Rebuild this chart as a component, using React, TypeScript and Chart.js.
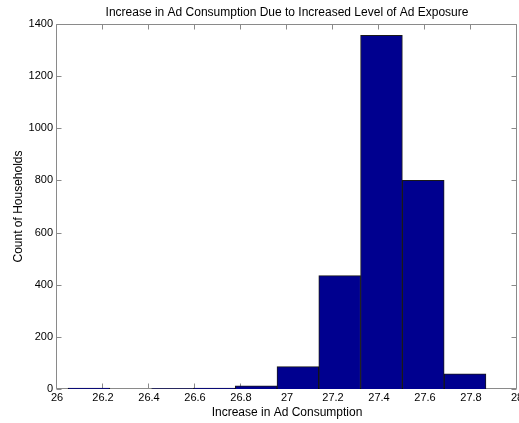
import React, { useEffect, useRef } from "react";
import { Chart, registerables } from "chart.js";

Chart.register(...registerables);

const chartTitle = "Increase in Ad Consumption Due to Increased Level of Ad Exposure";
const xTitle = "Increase in Ad Consumption";
const yTitle = "Count of Households";

// histogram bin edges
const binEdges = [26.048, 26.2297, 26.4114, 26.5931, 26.7748, 26.9565, 27.1382, 27.3199, 27.5016, 27.6833, 27.865];
const counts = [4, 0, 2, 4, 12, 86, 435, 1357, 800, 58];

const xTicks = [26, 26.2, 26.4, 26.6, 26.8, 27, 27.2, 27.4, 27.6, 27.8, 28];
const yTicks = [0, 200, 400, 600, 800, 1000, 1200, 1400];

const FONT = "'Liberation Sans', Arial, Helvetica, sans-serif";

const matlabAxes = {
  id: "matlabAxes",
  beforeDatasetsDraw(chart: any) {
    const { ctx, chartArea, scales } = chart;
    const { left, right, top, bottom } = chartArea;
    const x = scales.x;
    const y = scales.y;
    const L = left - 0.5;
    const R = right - 0.5;
    const T = top + 0.5;
    const B = bottom - 0.5;
    const len = 5;
    ctx.save();
    ctx.strokeStyle = "#8a8a8a";
    ctx.lineWidth = 1;
    ctx.beginPath();
    ctx.rect(L, T, R - L, B - T);
    x.ticks.forEach((t: any) => {
      const px = Math.round(x.getPixelForValue(t.value)) - 0.5;
      ctx.moveTo(px, B);
      ctx.lineTo(px, B - len);
      ctx.moveTo(px, T);
      ctx.lineTo(px, T + len);
    });
    y.ticks.forEach((t: any) => {
      const py = Math.round(y.getPixelForValue(t.value)) + 0.5;
      ctx.moveTo(L, py);
      ctx.lineTo(L + len, py);
      ctx.moveTo(R, py);
      ctx.lineTo(R - len, py);
    });
    ctx.stroke();
    ctx.restore();
  },
};

export default function App() {
  const ref = useRef<HTMLCanvasElement | null>(null);

  useEffect(() => {
    if (!ref.current) return;
    Chart.defaults.font.family = FONT;
    const centers = counts.map((_, i) => (binEdges[i] + binEdges[i + 1]) / 2);
    const chart = new Chart(ref.current, {
      type: "bar",
      data: {
        datasets: [
          {
            data: centers.map((c, i) => ({ x: c, y: counts[i] })),
            backgroundColor: "#00008f",
            borderColor: "rgba(0,0,0,0.9)",
            borderWidth: 1,
            barPercentage: 1,
            categoryPercentage: 1,
          },
        ],
      },
      options: {
        responsive: false,
        animation: false,
        devicePixelRatio: 1,
        layout: { padding: { left: 0, right: 2, top: 0, bottom: 0 } },
        plugins: {
          legend: { display: false },
          tooltip: { enabled: false },
          title: {
            display: true,
            text: chartTitle,
            fullSize: false,
            color: "#000",
            font: { size: 12, weight: "normal", family: FONT },
            padding: { top: 5.5, bottom: 4.1 },
          },
        },
        scales: {
          x: {
            type: "linear",
            min: 26,
            max: 28,
            offset: false,
            grid: { display: false, drawTicks: false, offset: false },
            border: { display: false },
            afterBuildTicks: (s: any) => {
              s.ticks = xTicks.map((v) => ({ value: v }));
            },
            afterFit: (s: any) => {
              s.height = 34;
              s.paddingLeft = 0;
              s.paddingRight = 0;
            },
            ticks: {
              autoSkip: false,
              maxRotation: 0,
              padding: 2,
              color: "#000",
              font: { size: 11, family: FONT },
              callback: (v: any) => String(v),
            },
            title: {
              display: true,
              text: xTitle,
              color: "#000",
              font: { size: 12, family: FONT },
              padding: { top: 0, bottom: 3 },
            },
          },
          y: {
            type: "linear",
            min: 0,
            max: 1400,
            grid: { display: false, drawTicks: false },
            border: { display: false },
            afterBuildTicks: (s: any) => {
              s.ticks = yTicks.map((v) => ({ value: v }));
            },
            afterFit: (s: any) => {
              s.width = 57;
            },
            ticks: {
              padding: 4,
              color: "#000",
              font: { size: 11, family: FONT },
              callback: (v: any) => String(v),
            },
            title: {
              display: true,
              text: yTitle,
              color: "#000",
              font: { size: 12, family: FONT },
              padding: { top: 11, bottom: 0 },
            },
          },
        },
      },
      plugins: [matlabAxes],
    });
    return () => chart.destroy();
  }, []);

  return (
    <div style={{ position: "absolute", left: 0, top: 0, width: 519, height: 423, background: "#fff" }}>
      <canvas ref={ref} width={519} height={423} style={{ display: "block", width: 519, height: 423 }} />
    </div>
  );
}
